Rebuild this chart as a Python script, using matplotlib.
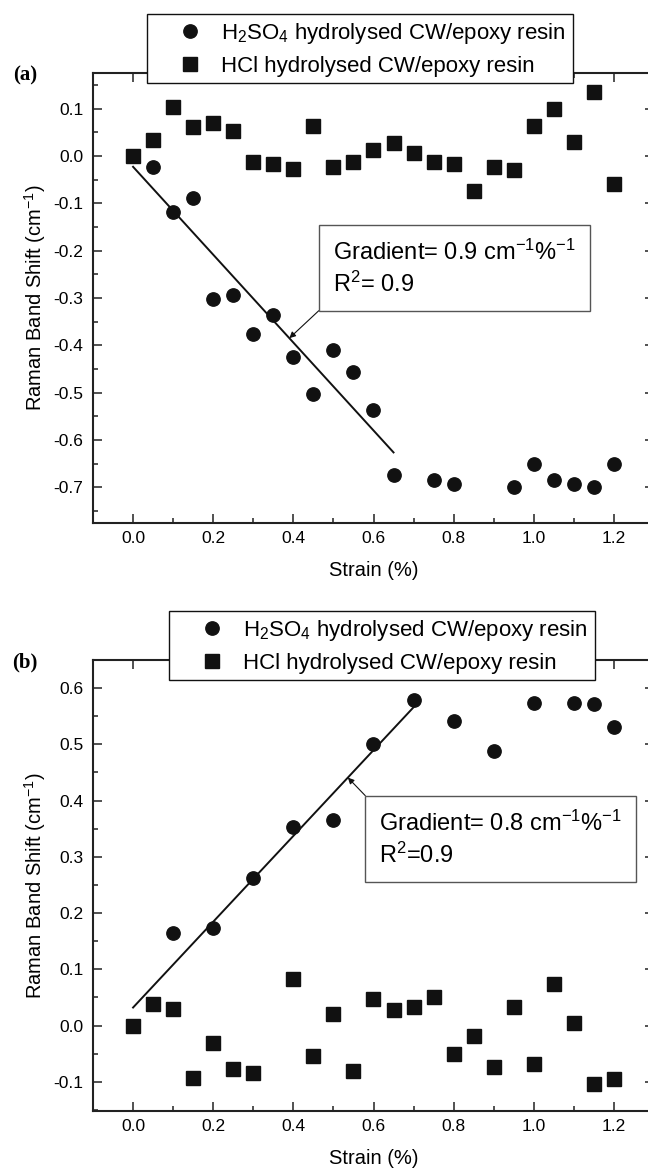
import numpy as np
import matplotlib
matplotlib.use('Agg')
import matplotlib.pyplot as plt
from matplotlib.ticker import MultipleLocator

plt.rcParams['font.family'] = ['Liberation Sans', 'DejaVu Sans']
plt.rcParams['mathtext.fontset'] = 'custom'
plt.rcParams['mathtext.rm'] = 'Liberation Sans'
plt.rcParams['mathtext.it'] = 'Liberation Sans'

# strain values (%)
strain_a_h2so4 = [0.0, 0.05, 0.1, 0.15, 0.2, 0.25, 0.3, 0.35, 0.4, 0.45, 0.5, 0.55, 0.6,
                  0.65, 0.75, 0.8, 0.95, 1.0, 1.05, 1.1, 1.15, 1.2]
shift_a_h2so4 = [0.0, -0.024, -0.119, -0.088, -0.303, -0.294, -0.376, -0.336, -0.424, -0.503,
                 -0.409, -0.457, -0.537, -0.673, -0.684, -0.692, -0.700, -0.650, -0.684,
                 -0.692, -0.700, -0.650]
strain_a_hcl = [0.0, 0.05, 0.1, 0.15, 0.2, 0.25, 0.3, 0.35, 0.4, 0.45, 0.5, 0.55, 0.6,
                0.65, 0.7, 0.75, 0.8, 0.85, 0.9, 0.95, 1.0, 1.05, 1.1, 1.15, 1.2]
shift_a_hcl = [0.0, 0.034, 0.104, 0.061, 0.069, 0.052, -0.013, -0.018, -0.027, 0.064,
               -0.024, -0.013, 0.012, 0.028, 0.006, -0.012, -0.017, -0.074, -0.024, -0.029,
               0.064, 0.098, 0.030, 0.134, -0.059]
fit_a_x = [0.0, 0.65]
fit_a_y = [-0.023, -0.626]

strain_b_h2so4 = [0.0, 0.1, 0.2, 0.3, 0.4, 0.5, 0.6, 0.7, 0.8, 0.9, 1.0, 1.1, 1.15, 1.2]
shift_b_h2so4 = [0.0, 0.164, 0.174, 0.263, 0.353, 0.365, 0.500, 0.579, 0.542, 0.488,
                 0.574, 0.573, 0.571, 0.531]
strain_b_hcl = [0.0, 0.05, 0.1, 0.15, 0.2, 0.25, 0.3, 0.4, 0.45, 0.5, 0.55, 0.6, 0.65,
                0.7, 0.75, 0.8, 0.85, 0.9, 0.95, 1.0, 1.05, 1.1, 1.15, 1.2]
shift_b_hcl = [0.0, 0.039, 0.030, -0.094, -0.031, -0.078, -0.084, 0.082, -0.055, 0.020,
               -0.080, 0.047, 0.027, 0.033, 0.050, -0.050, -0.019, -0.074, 0.033, -0.068,
               0.074, 0.004, -0.104, -0.095]
fit_b_x = [0.0, 0.7]
fit_b_y = [0.032, 0.566]

label_h2so4 = r'H$_2$SO$_4$ hydrolysed CW/epoxy resin'
label_hcl = 'HCl hydrolysed CW/epoxy resin'

W, H = 648, 1171
fig = plt.figure(figsize=(W / 100, H / 100), dpi=100)
ax1 = fig.add_axes([93 / W, 1 - 523 / H, 561 / W, 450 / H])
ax2 = fig.add_axes([93 / W, 1 - 1111 / H, 561 / W, 451 / H])

mk = dict(ms=9.6, color='#111111', ls='none')


def style_axis(ax, ylim, letter):
    ax.set_xlim(-0.1, 1.3)
    ax.set_ylim(*ylim)
    ax.xaxis.set_major_locator(MultipleLocator(0.2))
    ax.xaxis.set_minor_locator(MultipleLocator(0.1))
    ax.yaxis.set_major_locator(MultipleLocator(0.1))
    ax.yaxis.set_minor_locator(MultipleLocator(0.05))
    ax.xaxis.set_major_formatter(lambda v, p: f'{v:.1f}')
    ax.yaxis.set_major_formatter(lambda v, p: f'{v:.1f}')
    ax.tick_params(which='both', direction='in', top=True, right=True, width=1.1, color='#222222')
    ax.tick_params(which='major', length=6.5)
    ax.tick_params(which='minor', length=3.6)
    ax.tick_params(axis='x', which='major', labelsize=12.5, pad=6)
    ax.tick_params(axis='y', which='major', labelsize=12.5, pad=7)
    for s in ax.spines.values():
        s.set_linewidth(1.5)
        s.set_color('#222222')
    ax.set_xlabel('Strain (%)', fontsize=14.5)
    ax.set_ylabel(r'Raman Band Shift (cm$^{-1}$)', fontsize=14.5)
    ax.xaxis.set_label_coords(0.5, -0.085)
    ax.yaxis.set_label_coords(-0.08, 0.5)
    ax.text(-0.121, 0.995, letter, transform=ax.transAxes, fontsize=15, fontweight='bold',
            family='Liberation Serif', ha='center', va='center')


box = dict(boxstyle='square,pad=0.6', fc='white', ec='#555555', lw=1)

# panel (a)
ax1.plot(strain_a_hcl, shift_a_hcl, marker='s', label=label_hcl, **mk)
ax1.plot(strain_a_h2so4, shift_a_h2so4, marker='o', label=label_h2so4, **mk)
ax1.plot(fit_a_x, fit_a_y, color='#111111', lw=1.4)
style_axis(ax1, (-0.775, 0.175), '(a)')
tip_a = 0.39
ax1.annotate('Gradient= 0.9 cm$^{-1}$%$^{-1}$\nR$^2$= 0.9',
             xy=(tip_a, np.interp(tip_a, fit_a_x, fit_a_y)), xycoords='data',
             xytext=(0.645, 0.566), textcoords='axes fraction', fontsize=17,
             ha='center', va='center', multialignment='left', linespacing=1.35, bbox=box,
             arrowprops=dict(arrowstyle='-|>', color='#111111', lw=0.8, mutation_scale=9,
                             relpos=(0, 0), shrinkA=0, shrinkB=0))

# panel (b)
ax2.plot(strain_b_hcl, shift_b_hcl, marker='s', label=label_hcl, **mk)
ax2.plot(strain_b_h2so4, shift_b_h2so4, marker='o', label=label_h2so4, **mk)
ax2.plot(fit_b_x, fit_b_y, color='#111111', lw=1.4)
style_axis(ax2, (-0.152, 0.65), '(b)')
tip_b = 0.536
ax2.annotate('Gradient= 0.8 cm$^{-1}$%$^{-1}$\nR$^2$=0.9',
             xy=(tip_b, np.interp(tip_b, fit_b_x, fit_b_y)), xycoords='data',
             xytext=(0.727, 0.603), textcoords='axes fraction', fontsize=17,
             ha='center', va='center', multialignment='left', linespacing=1.35, bbox=box,
             arrowprops=dict(arrowstyle='-|>', color='#111111', lw=0.8, mutation_scale=9,
                             relpos=(0, 1), shrinkA=0, shrinkB=0))

# legends (circle entry first)
for ax, anchor in [(ax1, (147 / W, 1 - 14 / H)), (ax2, (169 / W, 1 - 611 / H))]:
    h, l = ax.get_legend_handles_labels()
    leg = fig.legend(h[::-1], l[::-1], loc='upper left', bbox_to_anchor=anchor,
                     fontsize=16, frameon=True, fancybox=False, edgecolor='#111111',
                     framealpha=1, borderpad=0.3, labelspacing=0.45, handletextpad=-0.25,
                     handlelength=3.3, borderaxespad=0)
    leg.get_frame().set_linewidth(1.0)

fig.savefig('out.png', dpi=100)
